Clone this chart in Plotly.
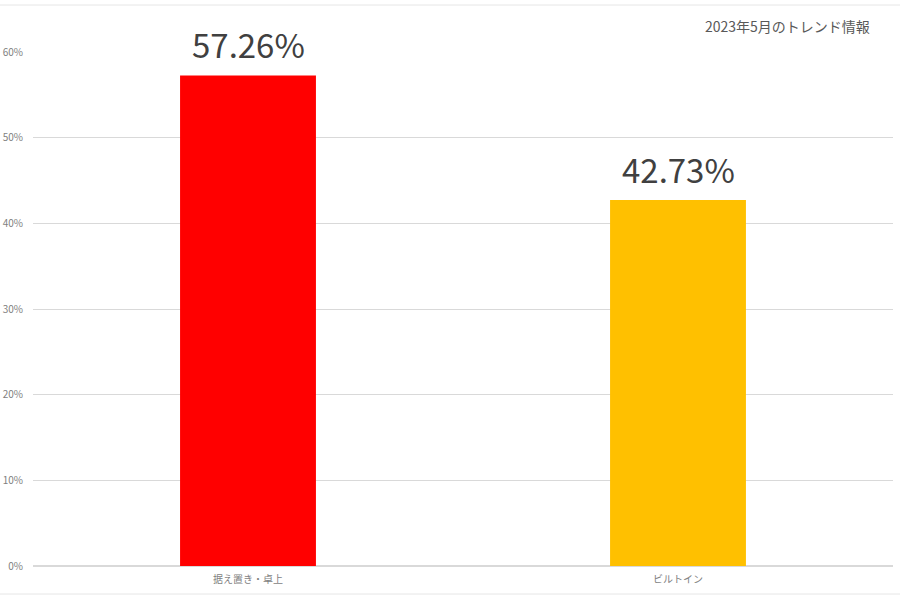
import plotly.graph_objects as go

categories = ["据え置き・卓上", "ビルトイン"]
values = [0.5726, 0.4273]
labels = ["57.26%", "42.73%"]
colors = ["#FF0000", "#FFC000"]
title_text = "2023年5月のトレンド情報"

FONT = "Noto Sans CJK JP, Noto Sans, sans-serif"

fig = go.Figure()
fig.add_trace(go.Bar(
    x=categories, y=values,
    marker=dict(color=colors, line=dict(width=0)),
    width=0.316,
    hoverinfo="skip",
))

for c, v, t in zip(categories, values, labels):
    fig.add_annotation(x=c, y=v, text=t, showarrow=False, yanchor="bottom",
                       yshift=5, font=dict(family=FONT, size=33, color="#404040"))

fig.add_annotation(xref="paper", yref="paper", x=0.9756, y=1.05, xanchor="right",
                   yanchor="middle", text=title_text, showarrow=False,
                   font=dict(family=FONT, size=14, color="#595959"))

# outer frame lines
fig.add_shape(type="line", xref="paper", yref="paper", x0=-0.04, x1=1.01,
              y0=1.0914, y1=1.0914, line=dict(color="#E6E6E6", width=1))
fig.add_shape(type="line", xref="paper", yref="paper", x0=-0.04, x1=1.01,
              y0=-0.0545, y1=-0.0545, line=dict(color="#E6E6E6", width=1))

fig.update_layout(
    width=900, height=600,
    margin=dict(l=33, r=7, t=52, b=34),
    plot_bgcolor="white", paper_bgcolor="white",
    showlegend=False,
    bargap=0.684,
    font=dict(family=FONT),
)
fig.update_yaxes(range=[0, 0.6], dtick=0.1, tickformat=".0%",
                 showgrid=True, gridcolor="#D9D9D9", gridwidth=1,
                 zeroline=True, zerolinecolor="#D9D9D9",
                 tickfont=dict(size=10, color="#7F7F7F"),
                 ticks="", ticklabelstandoff=9, showline=False, automargin=False)
fig.update_xaxes(tickfont=dict(size=10, color="#7F7F7F"), showline=False,
                 ticks="", showgrid=False, ticklabelstandoff=6, automargin=False)

fig.write_html("out.html", post_script="document.body.style.margin='0';",
               config={"displayModeBar": False})
